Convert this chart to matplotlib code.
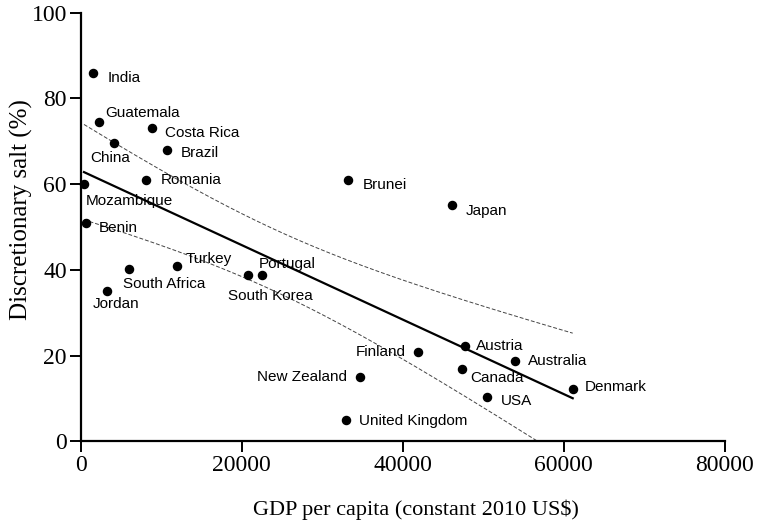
import numpy as np
import matplotlib
matplotlib.use("Agg")
import matplotlib.pyplot as plt

# Discretionary salt vs GDP per capita, one point per country
countries = ["India", "Guatemala", "Costa Rica", "China", "Brazil", "Romania",
             "Mozambique", "Benin", "Turkey", "South Africa", "Jordan",
             "South Korea", "Portugal", "Brunei", "Japan", "Finland",
             "New Zealand", "Austria", "Canada", "Australia", "USA",
             "United Kingdom", "Denmark"]
gdp = [1565, 2310, 8820, 4140, 10760, 8110,
       410, 620, 12000, 6000, 3230,
       20820, 22480, 33240, 46150, 41930,
       34690, 47770, 47400, 53940, 50500,
       32910, 61100]
salt = [85.9, 74.5, 73.2, 69.6, 68.0, 60.9,
        60.0, 50.9, 40.9, 40.1, 35.0,
        38.9, 38.9, 60.9, 55.1, 20.9,
        14.9, 22.3, 16.8, 18.7, 10.4,
        4.9, 12.1]

x_ticks = [0, 20000, 40000, 60000, 80000]
y_ticks = [0, 20, 40, 60, 80, 100]

# label placement (pixel offsets from the dot, horizontal alignment)
label_offsets = {
    "India": (14, -5, "left"), "Guatemala": (6, 9, "left"),
    "Costa Rica": (13, -5, "left"), "China": (-24, -15, "left"),
    "Brazil": (13, -3, "left"), "Romania": (15, 0, "left"),
    "Mozambique": (2, -17, "left"), "Benin": (13, -5, "left"),
    "Turkey": (8, 7, "left"), "South Africa": (-6, -15, "left"),
    "Jordan": (-14, -13, "left"), "South Korea": (-20, -21, "left"),
    "Portugal": (-3, 11, "left"), "Brunei": (14, -5, "left"),
    "Japan": (13, -6, "left"), "Finland": (-13, 0, "right"),
    "New Zealand": (-13, 0, "right"), "Austria": (11, 0, "left"),
    "Canada": (8, -9, "left"), "Australia": (13, 0, "left"),
    "USA": (14, -4, "left"), "United Kingdom": (13, -1, "left"),
    "Denmark": (12, 2, "left"),
}

x = np.array(gdp, dtype=float)
y = np.array(salt, dtype=float)

# linear fit with 95% confidence band of the mean
slope, intercept = np.polyfit(x, y, 1)
n = len(x)
resid = y - (slope * x + intercept)
s = np.sqrt(np.sum(resid ** 2) / (n - 2))
sxx = np.sum((x - x.mean()) ** 2)
t_val = 2.080  # t(0.975, df=21)
xs = np.linspace(x.min(), x.max(), 200)
ys = slope * xs + intercept
half = t_val * s * np.sqrt(1.0 / n + (xs - x.mean()) ** 2 / sxx)

fig = plt.figure(figsize=(7.57, 5.31), dpi=100)
ax = fig.add_axes([0.1066, 0.169, 0.851, 0.807])

ax.plot(xs, ys, color="black", lw=1.6, zorder=2)
ax.plot(xs, ys + half, color="#444444", lw=0.7, ls=(0, (4, 2)), zorder=2)
ax.plot(xs, ys - half, color="#444444", lw=0.7, ls=(0, (4, 2)), zorder=2)

ax.scatter(x, y, s=34, color="black", zorder=3, clip_on=False)

for name, xv, yv in zip(countries, gdp, salt):
    dx, dy, ha = label_offsets[name]
    ax.annotate(name, (xv, yv), xytext=(dx, dy), textcoords="offset pixels",
                ha=ha, va="center", fontsize=11, family="Liberation Sans",
                color="black")

ax.set_xlim(0, 80000)
ax.set_ylim(0, 100)
ax.set_xticks(x_ticks)
ax.set_yticks(y_ticks)
ax.set_xticklabels([str(v) for v in x_ticks], family="Liberation Serif", fontsize=17)
ax.set_yticklabels([str(v) for v in y_ticks], family="Liberation Serif", fontsize=17)

for side in ["top", "right"]:
    ax.spines[side].set_visible(False)
for side in ["left", "bottom"]:
    ax.spines[side].set_linewidth(1.6)
ax.tick_params(direction="out", length=8, width=1.4, pad=2)

ax.set_xlabel("GDP per capita (constant 2010 US$)", family="Liberation Serif",
              fontsize=16)
ax.set_ylabel("Discretionary salt (%)", family="Liberation Serif", fontsize=18)
ax.xaxis.set_label_coords(0.52, -0.135)
ax.yaxis.set_label_coords(-0.074, 0.54)

fig.savefig("out.png", dpi=100)
